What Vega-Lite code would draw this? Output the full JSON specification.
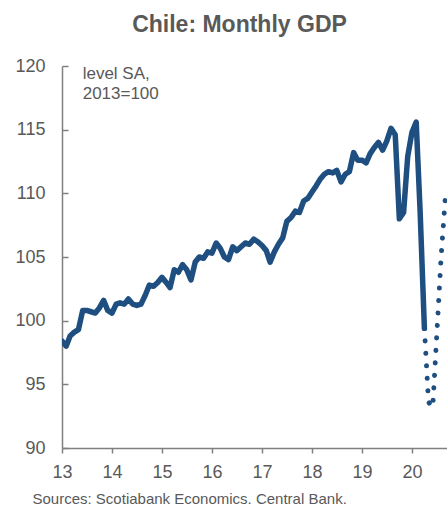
{
  "$schema": "https://vega.github.io/schema/vega-lite/v6.json",
  "width": 385,
  "height": 382,
  "autosize": {"type": "none"},
  "padding": {"left": 62, "top": 66, "right": 0, "bottom": 58},
  "background": "white",
  "title": {
    "text": "Chile: Monthly GDP",
    "font": "Liberation Sans",
    "fontSize": 23,
    "fontWeight": "bold",
    "color": "#595959",
    "anchor": "middle",
    "frame": "group",
    "dx": -15,
    "offset": 20
  },
  "config": {
    "view": {"stroke": null},
    "font": "Liberation Sans"
  },
  "datasets": {
    "actual": [
      {"date": "2013-01-01", "value": 98.4},
      {"date": "2013-02-01", "value": 98.0},
      {"date": "2013-03-01", "value": 98.8},
      {"date": "2013-04-01", "value": 99.1},
      {"date": "2013-05-01", "value": 99.3},
      {"date": "2013-06-01", "value": 100.8},
      {"date": "2013-07-01", "value": 100.8},
      {"date": "2013-08-01", "value": 100.7},
      {"date": "2013-09-01", "value": 100.6},
      {"date": "2013-10-01", "value": 101.0},
      {"date": "2013-11-01", "value": 101.6},
      {"date": "2013-12-01", "value": 100.8},
      {"date": "2014-01-01", "value": 100.6},
      {"date": "2014-02-01", "value": 101.3},
      {"date": "2014-03-01", "value": 101.4},
      {"date": "2014-04-01", "value": 101.3},
      {"date": "2014-05-01", "value": 101.7},
      {"date": "2014-06-01", "value": 101.3},
      {"date": "2014-07-01", "value": 101.2},
      {"date": "2014-08-01", "value": 101.3},
      {"date": "2014-09-01", "value": 102.0},
      {"date": "2014-10-01", "value": 102.8},
      {"date": "2014-11-01", "value": 102.7},
      {"date": "2014-12-01", "value": 103.0},
      {"date": "2015-01-01", "value": 103.4},
      {"date": "2015-02-01", "value": 103.0},
      {"date": "2015-03-01", "value": 102.6},
      {"date": "2015-04-01", "value": 104.0},
      {"date": "2015-05-01", "value": 103.8},
      {"date": "2015-06-01", "value": 104.4},
      {"date": "2015-07-01", "value": 104.0},
      {"date": "2015-08-01", "value": 103.2},
      {"date": "2015-09-01", "value": 104.6},
      {"date": "2015-10-01", "value": 105.0},
      {"date": "2015-11-01", "value": 104.9},
      {"date": "2015-12-01", "value": 105.4},
      {"date": "2016-01-01", "value": 105.3},
      {"date": "2016-02-01", "value": 106.1},
      {"date": "2016-03-01", "value": 105.7},
      {"date": "2016-04-01", "value": 105.0},
      {"date": "2016-05-01", "value": 104.8},
      {"date": "2016-06-01", "value": 105.8},
      {"date": "2016-07-01", "value": 105.5},
      {"date": "2016-08-01", "value": 105.8},
      {"date": "2016-09-01", "value": 106.1},
      {"date": "2016-10-01", "value": 106.0},
      {"date": "2016-11-01", "value": 106.4},
      {"date": "2016-12-01", "value": 106.2},
      {"date": "2017-01-01", "value": 105.9},
      {"date": "2017-02-01", "value": 105.5},
      {"date": "2017-03-01", "value": 104.6},
      {"date": "2017-04-01", "value": 105.4},
      {"date": "2017-05-01", "value": 106.0},
      {"date": "2017-06-01", "value": 106.5},
      {"date": "2017-07-01", "value": 107.8},
      {"date": "2017-08-01", "value": 108.1},
      {"date": "2017-09-01", "value": 108.6},
      {"date": "2017-10-01", "value": 108.5},
      {"date": "2017-11-01", "value": 109.4},
      {"date": "2017-12-01", "value": 109.6},
      {"date": "2018-01-01", "value": 110.1},
      {"date": "2018-02-01", "value": 110.6},
      {"date": "2018-03-01", "value": 111.1},
      {"date": "2018-04-01", "value": 111.5},
      {"date": "2018-05-01", "value": 111.7},
      {"date": "2018-06-01", "value": 111.6},
      {"date": "2018-07-01", "value": 111.8},
      {"date": "2018-08-01", "value": 110.9},
      {"date": "2018-09-01", "value": 111.5},
      {"date": "2018-10-01", "value": 111.7},
      {"date": "2018-11-01", "value": 113.2},
      {"date": "2018-12-01", "value": 112.6},
      {"date": "2019-01-01", "value": 112.6},
      {"date": "2019-02-01", "value": 112.4},
      {"date": "2019-03-01", "value": 113.1},
      {"date": "2019-04-01", "value": 113.6},
      {"date": "2019-05-01", "value": 114.0},
      {"date": "2019-06-01", "value": 113.4},
      {"date": "2019-07-01", "value": 114.1},
      {"date": "2019-08-01", "value": 115.1},
      {"date": "2019-09-01", "value": 114.6},
      {"date": "2019-10-01", "value": 108.0},
      {"date": "2019-11-01", "value": 108.5},
      {"date": "2019-12-01", "value": 112.9},
      {"date": "2020-01-01", "value": 114.8},
      {"date": "2020-02-01", "value": 115.6},
      {"date": "2020-03-01", "value": 108.5},
      {"date": "2020-04-01", "value": 99.4}
    ],
    "forecast": [
      {"date": "2020-04-01", "value": 99.4},
      {"date": "2020-05-01", "value": 93.6},
      {"date": "2020-06-01", "value": 93.2},
      {"date": "2020-07-01", "value": 99.0},
      {"date": "2020-08-01", "value": 105.0},
      {"date": "2020-09-01", "value": 109.7}
    ],
    "note": [
      {"date": "2013-06-01", "value": 120, "text": "level SA,\n2013=100"}
    ]
  },
  "encoding": {
    "x": {
      "field": "date",
      "type": "temporal",
      "scale": {
        "type": "utc",
        "domain": [
          {"year": 2013, "month": 1, "date": 1, "utc": true},
          {"year": 2020, "month": 9, "date": 13, "utc": true}
        ]
      },
      "axis": {
        "values": [
          {"year": 2013, "month": 1, "date": 1, "utc": true},
          {"year": 2014, "month": 1, "date": 1, "utc": true},
          {"year": 2015, "month": 1, "date": 1, "utc": true},
          {"year": 2016, "month": 1, "date": 1, "utc": true},
          {"year": 2017, "month": 1, "date": 1, "utc": true},
          {"year": 2018, "month": 1, "date": 1, "utc": true},
          {"year": 2019, "month": 1, "date": 1, "utc": true},
          {"year": 2020, "month": 1, "date": 1, "utc": true}
        ],
        "labelExpr": "utcFormat(datum.value, '%y')",
        "grid": false,
        "domainColor": "#808080",
        "domainWidth": 1.5,
        "tickColor": "#808080",
        "tickWidth": 1.5,
        "tickSize": 5,
        "labelFontSize": 18,
        "labelColor": "#595959",
        "labelPadding": 10,
        "labelFlush": false,
        "title": "Sources: Scotiabank Economics. Central Bank.",
        "titleFontSize": 15,
        "titleFontWeight": "normal",
        "titleColor": "#595959",
        "titleAlign": "left",
        "titleAnchor": "start",
        "titleBaseline": "alphabetic",
        "titleX": -30,
        "titleY": 55
      }
    },
    "y": {
      "field": "value",
      "type": "quantitative",
      "scale": {"domain": [90, 120], "nice": false, "zero": false},
      "axis": {
        "values": [90, 95, 100, 105, 110, 115, 120],
        "grid": false,
        "domainColor": "#808080",
        "domainWidth": 1.5,
        "tickColor": "#808080",
        "tickWidth": 1.5,
        "tickSize": -6,
        "labelFontSize": 18,
        "labelColor": "#595959",
        "labelPadding": 23,
        "labelFlush": false,
        "title": null
      }
    }
  },
  "layer": [
    {
      "data": {"name": "actual"},
      "mark": {"type": "line", "color": "#1F4E80", "strokeWidth": 5.5, "strokeJoin": "round", "strokeCap": "round", "clip": true}
    },
    {
      "data": {"name": "forecast"},
      "mark": {"type": "line", "color": "#1F4E80", "strokeWidth": 5, "strokeCap": "round", "strokeDash": [0.1, 12.4], "clip": true}
    },
    {
      "data": {"name": "note"},
      "mark": {"type": "text", "align": "left", "baseline": "top", "fontSize": 17, "color": "#595959", "lineBreak": "\n", "lineHeight": 20, "dy": 0},
      "encoding": {"text": {"field": "text"}}
    }
  ]
}
